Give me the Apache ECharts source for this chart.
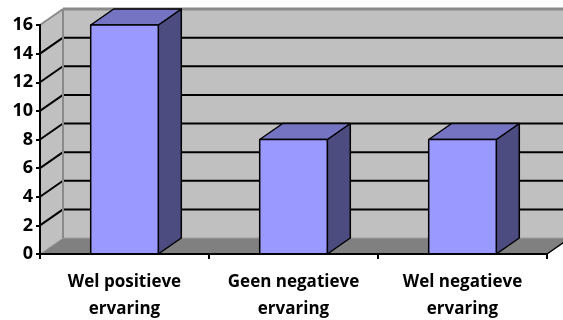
<!DOCTYPE html>
<html>
<head>
<meta charset="utf-8">
<script src="https://cdn.jsdelivr.net/npm/echarts@6/dist/echarts.min.js"></script>
<style>html,body{margin:0;padding:0;background:#fff}#c{width:563px;height:320px}</style>
</head>
<body>
<div id="c"></div>
<script>
const categories = ['Wel positieve\nervaring', 'Geen negatieve\nervaring', 'Wel negatieve\nervaring'];
const values = [16, 8, 8];
const yTicks = [0, 2, 4, 6, 8, 10, 12, 14, 16];

const DX = 23, DY = -16;
const FONT = 'Open Sans';

const chart = echarts.init(document.getElementById('c'), null, { renderer: 'canvas' });

function bgRender(params, api) {
  const cs = params.coordSys;
  const x0 = cs.x, x1 = cs.x + cs.width;
  const yb = api.coord([0, 0])[1];
  const yt = api.coord([0, yTicks[yTicks.length - 1]])[1];
  const ch = [];
  ch.push({ type: 'rect', shape: { x: x0 + DX, y: yt + DY, width: x1 - x0 + 40, height: yb - yt }, style: { fill: '#C0C0C0' } });
  ch.push({ type: 'polygon', shape: { points: [[x0, yb], [x0 + DX, yb + DY], [x0 + DX, yt + DY], [x0, yt]] }, style: { fill: '#C0C0C0' } });
  ch.push({ type: 'polygon', shape: { points: [[x0, yb], [x1, yb], [x1 + DX, yb + DY], [x0 + DX, yb + DY]] }, style: { fill: '#808080' } });
  ch.push({ type: 'line', shape: { x1: x0 + DX, y1: yb + DY, x2: x1 + DX + 20, y2: yb + DY }, style: { stroke: '#A0A0A0', lineWidth: 1 } });
  ch.push({ type: 'line', shape: { x1: x0, y1: yb, x2: x0 + DX, y2: yb + DY }, style: { stroke: '#A0A0A0', lineWidth: 1 } });
  yTicks.forEach(function (v) {
    const y = api.coord([0, v])[1];
    if (v > 0 && v < yTicks[yTicks.length - 1]) {
      ch.push({ type: 'line', shape: { x1: x0 + DX, y1: y + DY, x2: x1 + DX + 20, y2: y + DY }, style: { stroke: '#000', lineWidth: 2 } });
    }
    if (v > 0) {
      ch.push({ type: 'line', shape: { x1: x0, y1: y, x2: x0 + DX, y2: y + DY }, style: { stroke: v === yTicks[yTicks.length - 1] ? '#8A8A8A' : '#000', lineWidth: 2 } });
    }
  });
  ch.push({ type: 'line', shape: { x1: x0 + DX, y1: yb + DY, x2: x0 + DX, y2: yt + DY }, style: { stroke: '#8A8A8A', lineWidth: 2 } });
  ch.push({ type: 'line', shape: { x1: x0 + DX, y1: yt + DY, x2: x1 + DX + 20, y2: yt + DY }, style: { stroke: '#8A8A8A', lineWidth: 3 } });
  ch.push({ type: 'line', shape: { x1: x1, y1: yb, x2: x1 + DX, y2: yb + DY }, style: { stroke: '#000', lineWidth: 1.5 } });
  return { type: 'group', children: ch };
}

function barRender(params, api) {
  const idx = api.value(0);
  const v = api.value(1);
  const top = api.coord([idx, v]);
  const bot = api.coord([idx, 0]);
  const w = api.size([1, 0])[0] * 0.4;
  const xl = top[0] - w / 2, xr = top[0] + w / 2;
  const yt = top[1], yb = bot[1];
  const st = { stroke: '#000', lineWidth: 1.5, lineJoin: 'round' };
  return {
    type: 'group',
    children: [
      { type: 'polygon', shape: { points: [[xr, yb], [xr + DX, yb + DY], [xr + DX, yt + DY], [xr, yt]] }, style: Object.assign({ fill: '#4C4C80' }, st) },
      { type: 'polygon', shape: { points: [[xl, yt], [xr, yt], [xr + DX, yt + DY], [xl + DX, yt + DY]] }, style: Object.assign({ fill: '#7474C2' }, st) },
      { type: 'rect', shape: { x: xl, y: yt, width: w, height: yb - yt }, style: Object.assign({ fill: '#9999FF' }, st) }
    ]
  };
}

chart.setOption({
  animation: false,
  grid: { left: 40, right: 16, top: 25, bottom: 66, containLabel: false, outerBoundsMode: 'none' },
  xAxis: {
    type: 'category',
    data: categories,
    boundaryGap: true,
    z: 10,
    axisLine: { show: true, lineStyle: { color: '#000', width: 2 } },
    axisTick: { show: true, length: 5, lineStyle: { color: '#000', width: 2 } },
    axisLabel: { interval: 0, hideOverlap: false, color: '#000', fontFamily: FONT, fontWeight: 'bold', fontSize: 17, lineHeight: 27, margin: 15 },
    splitLine: { show: false }
  },
  yAxis: {
    type: 'value',
    min: 0, max: 16, interval: 2,
    z: 10,
    axisLine: { show: true, lineStyle: { color: '#000', width: 2 } },
    axisTick: { show: true, length: 4, lineStyle: { color: '#000', width: 2 } },
    axisLabel: { color: '#000', fontFamily: FONT, fontWeight: 'bold', fontSize: 18, margin: 7 },
    splitLine: { show: false }
  },
  series: [
    { type: 'custom', z: 1, silent: true, renderItem: bgRender, data: [[0, 0]], clip: false },
    { type: 'custom', z: 2, renderItem: barRender, data: values.map(function (v, i) { return [i, v]; }), clip: false }
  ]
});
</script>
</body>
</html>
